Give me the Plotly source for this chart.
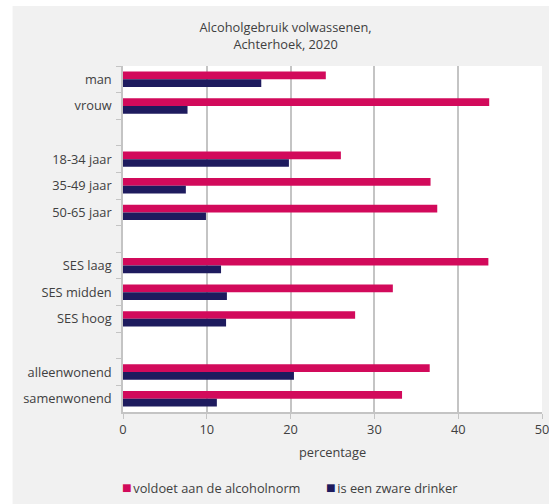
import plotly.graph_objects as go

categories = ["man", "vrouw", " ", "18-34 jaar", "35-49 jaar", "50-65 jaar", "  ",
              "SES laag", "SES midden", "SES hoog", "   ", "alleenwonend", "samenwonend"]
alcoholnorm = [24.2, 43.7, None, 26.0, 36.7, 37.5, None, 43.6, 32.2, 27.7, None, 36.6, 33.3]
zware_drinker = [16.5, 7.7, None, 19.8, 7.5, 9.9, None, 11.7, 12.4, 12.3, None, 20.4, 11.2]
series_names = ["voldoet aan de alcoholnorm", "is een zware drinker"]
x_ticks = [0, 10, 20, 30, 40, 50]

PINK = "#d20a5b"
NAVY = "#1e1b5e"
TXT = "#404040"
GRID = "#c4c4c4"
PANEL = "#f1f1f1"
FS = 12.8

fig = go.Figure()
fig.add_trace(go.Bar(y=categories, x=alcoholnorm, orientation="h", name=series_names[0],
                     marker=dict(color=PINK, line=dict(width=0))))
fig.add_trace(go.Bar(y=categories, x=zware_drinker, orientation="h", name=series_names[1],
                     marker=dict(color=NAVY, line=dict(width=0))))

W, H = 549, 504
L, T = 123.3, 66
PR, PB = 541.7, 412.5
R, B = W - PR, H - PB
pw, ph = PR - L, PB - T

def px_x(p):
    return (p - L) / pw

def px_y(p):
    return (PB - p) / ph

fig.update_layout(
    width=W, height=H,
    margin=dict(l=L, r=R, t=T, b=B, autoexpand=False),
    paper_bgcolor=PANEL,
    plot_bgcolor="white",
    barmode="group",
    bargap=0.42,
    bargroupgap=0,
    font=dict(family="Open Sans", size=FS, color=TXT),
    title=dict(text="Alcoholgebruik volwassenen,<br>Achterhoek, 2020",
               x=285.6 / W, xanchor="center", xref="container",
               y=1 - 32 / H, yanchor="top", yref="container",
               font=dict(size=FS, color=TXT)),
    showlegend=False,
    shapes=[
        dict(type="rect", xref="paper", yref="paper", x0=px_x(-5), x1=px_x(13),
             y0=px_y(H + 10), y1=px_y(-5), fillcolor="white", line=dict(width=0), layer="above"),
        dict(type="rect", xref="paper", yref="paper", x0=px_x(-5), x1=px_x(W + 10),
             y0=px_y(6), y1=px_y(-5), fillcolor="white", line=dict(width=0), layer="above"),
    ],
    annotations=[
        dict(text=f"<span style='color:{PINK};font-size:16px'>■</span>"
                  f"<span style='font-size:6px'> </span>{series_names[0]}",
             xref="paper", yref="paper", x=px_x(120.5), y=px_y(488),
             xanchor="left", yanchor="middle", showarrow=False,
             font=dict(size=FS, color=TXT)),
        dict(text=f"<span style='color:{NAVY};font-size:16px'>■</span>"
                  f"<span style='font-size:6px'> </span>{series_names[1]}",
             xref="paper", yref="paper", x=px_x(324), y=px_y(488),
             xanchor="left", yanchor="middle", showarrow=False,
             font=dict(size=FS, color=TXT)),
    ],
)

fig.update_xaxes(
    range=[0, 50], tickvals=x_ticks, ticktext=[str(v) for v in x_ticks],
    showgrid=True, gridcolor=GRID, gridwidth=1.5,
    showline=True, linecolor=GRID, linewidth=1.5,
    ticks="outside", ticklen=5, tickcolor=GRID,
    zeroline=False, automargin=False, ticklabeloverflow="allow",
    title=dict(text="percentage", standoff=11, font=dict(size=FS, color=TXT)),
    tickfont=dict(size=FS, color=TXT),
)
fig.update_yaxes(
    type="category", categoryorder="array", categoryarray=categories,
    autorange="reversed", automargin=False,
    tickson="boundaries", ticks="outside", ticklen=5, tickcolor=GRID,
    showline=True, linecolor=GRID, linewidth=1.5,
    showgrid=False, zeroline=False,
    tickfont=dict(size=FS, color=TXT),
    ticklabelstandoff=7,
)

fig.write_html("out.html", config={"displayModeBar": False},
               post_script="document.body.style.margin='0';")
